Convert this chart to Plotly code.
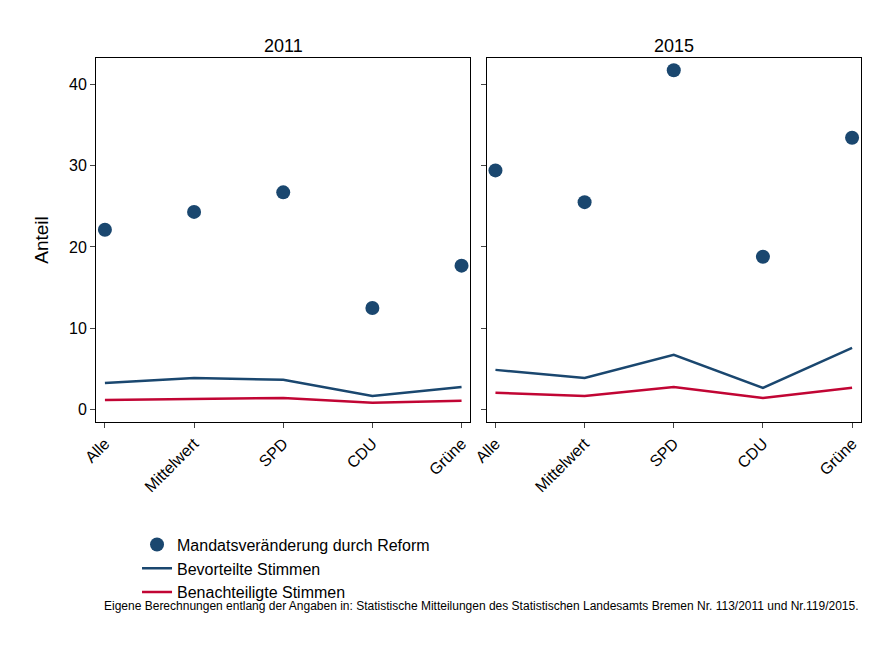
import plotly.graph_objects as go
from plotly.subplots import make_subplots

# Kategorien und Werte
kategorien = ['Alle', 'Mittelwert', 'SPD', 'CDU', 'Grüne']
mandat_2011 = [22.1, 24.3, 26.7, 12.5, 17.7]
bevorteilt_2011 = [3.3, 3.9, 3.7, 1.7, 2.8]
benachteiligt_2011 = [1.2, 1.35, 1.45, 0.85, 1.1]
mandat_2015 = [29.4, 25.5, 41.7, 18.8, 33.4]
bevorteilt_2015 = [4.9, 3.9, 6.75, 2.7, 7.6]
benachteiligt_2015 = [2.1, 1.7, 2.8, 1.45, 2.7]

BLAU = '#1a476f'
ROT = '#c10534'

"""
Baut die zwei Panels (2011, 2015) mit Punkten und Linien
"""
def add_panel(fig, col, mandat, bevorteilt, benachteiligt):
    show = col == 1
    fig.add_trace(go.Scatter(x=kategorien, y=mandat, mode='markers',
        marker=dict(color=BLAU, size=14), name='Mandatsveränderung durch Reform',
        showlegend=show, legendrank=1), row=1, col=col)
    fig.add_trace(go.Scatter(x=kategorien, y=bevorteilt, mode='lines',
        line=dict(color=BLAU, width=2.5), name='Bevorteilte Stimmen',
        showlegend=show, legendrank=2), row=1, col=col)
    fig.add_trace(go.Scatter(x=kategorien, y=benachteiligt, mode='lines',
        line=dict(color=ROT, width=2.5), name='Benachteiligte Stimmen',
        showlegend=show, legendrank=3), row=1, col=col)

def make_chart():
    fig = make_subplots(rows=1, cols=2, shared_yaxes=True, horizontal_spacing=0.021,
                        subplot_titles=['2011', '2015'])
    add_panel(fig, 1, mandat_2011, bevorteilt_2011, benachteiligt_2011)
    add_panel(fig, 2, mandat_2015, bevorteilt_2015, benachteiligt_2015)
    fig.update_xaxes(showline=True, mirror=True, linecolor='black', linewidth=1,
        ticks='outside', tickangle=-45, range=[-0.1, 4.1], tickfont=dict(size=16),
        showgrid=False)
    fig.update_yaxes(showline=True, mirror=True, linecolor='black', linewidth=1,
        ticks='outside', range=[-1.5, 43.2], tickvals=[0, 10, 20, 30, 40],
        tickfont=dict(size=16), showgrid=False, zeroline=False)
    fig.update_yaxes(title_text='Anteil', title_font=dict(size=19), row=1, col=1)
    for a in fig.layout.annotations:
        a.font = dict(size=18, color='black')
    fig.add_annotation(text='Eigene Berechnungen entlang der Angaben in: Statistische Mitteilungen '
        'des Statistischen Landesamts Bremen Nr. 113/2011 und Nr.119/2015.',
        xref='paper', yref='paper', x=1.0, y=-0.53, xanchor='right', showarrow=False,
        font=dict(size=12, color='black'))
    fig.update_layout(width=891, height=648, plot_bgcolor='white', paper_bgcolor='white',
        font=dict(family='Arial', color='black'),
        margin=dict(l=88, r=38, t=50, b=234),
        legend=dict(orientation='h', x=0.07, y=-0.29, xanchor='left', yanchor='top',
            font=dict(size=16), entrywidth=330, traceorder='normal'))
    return fig

if __name__ == '__main__':
    fig = make_chart()
    fig.write_html('out.html')
